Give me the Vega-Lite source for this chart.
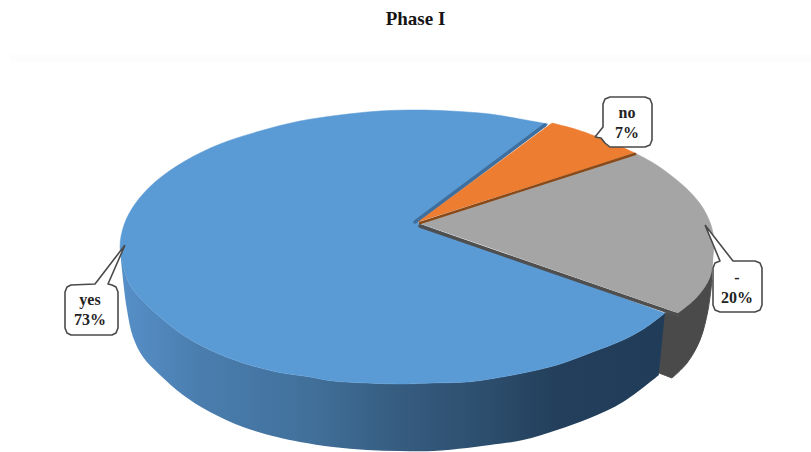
{
  "$schema": "https://vega.github.io/schema/vega-lite/v6.json",
  "width": 811,
  "height": 452,
  "autosize": "none",
  "padding": 0,
  "background": "white",
  "view": {"stroke": null},
  "title": {"text": "Phase I", "font": "Liberation Serif", "fontSize": 19, "fontWeight": "bold", "color": "#151515", "anchor": "middle", "frame": "group", "offset": -29, "dx": 10},
  "datasets": {
    "band": [{"x": 10, "x2": 811, "y": 54, "y2": 62}],
    "sideDark": [
      {"i": 1, "x": 712, "y": 255}, {"i": 2, "x": 710, "y": 277}, {"i": 3, "x": 697, "y": 297}, {"i": 4, "x": 678, "y": 313},
      {"i": 4.5, "x": 678, "y": 313},
      {"i": 5, "x": 664, "y": 313}, {"i": 5.5, "x": 664, "y": 313}, {"i": 6, "x": 659, "y": 373}, {"i": 6.5, "x": 659, "y": 373},
      {"i": 7, "x": 672, "y": 378}, {"i": 7.5, "x": 672, "y": 378}, {"i": 8, "x": 687, "y": 363},
      {"i": 9, "x": 700, "y": 340}, {"i": 10, "x": 708, "y": 310}, {"i": 11, "x": 712, "y": 280}
    ],
    "sideBlue": [
      {"i": 1, "x": 120, "y": 247}, {"i": 2, "x": 124, "y": 269}, {"i": 3, "x": 130, "y": 285}, {"i": 4, "x": 142, "y": 300},
      {"i": 5, "x": 160, "y": 317}, {"i": 6, "x": 183, "y": 335}, {"i": 7, "x": 210, "y": 350}, {"i": 8, "x": 243, "y": 363},
      {"i": 9, "x": 277, "y": 372}, {"i": 10, "x": 310, "y": 377}, {"i": 11, "x": 333, "y": 381}, {"i": 12, "x": 367, "y": 383},
      {"i": 13, "x": 400, "y": 384}, {"i": 14, "x": 433, "y": 383}, {"i": 15, "x": 467, "y": 382}, {"i": 16, "x": 490, "y": 379},
      {"i": 17, "x": 523, "y": 373}, {"i": 18, "x": 557, "y": 365}, {"i": 19, "x": 590, "y": 353}, {"i": 20, "x": 623, "y": 340},
      {"i": 21, "x": 645, "y": 328}, {"i": 22, "x": 665, "y": 313}, {"i": 22.5, "x": 665, "y": 313},
      {"i": 23, "x": 659, "y": 375}, {"i": 23.5, "x": 659, "y": 375}, {"i": 24, "x": 623, "y": 402}, {"i": 25, "x": 590, "y": 418},
      {"i": 26, "x": 557, "y": 430}, {"i": 27, "x": 523, "y": 440}, {"i": 28, "x": 490, "y": 445}, {"i": 29, "x": 467, "y": 448},
      {"i": 30, "x": 433, "y": 451}, {"i": 31, "x": 400, "y": 451}, {"i": 32, "x": 367, "y": 450}, {"i": 33, "x": 333, "y": 447},
      {"i": 34, "x": 300, "y": 442}, {"i": 35, "x": 277, "y": 437}, {"i": 36, "x": 243, "y": 427}, {"i": 37, "x": 210, "y": 412},
      {"i": 38, "x": 183, "y": 395}, {"i": 39, "x": 160, "y": 375}, {"i": 40, "x": 143, "y": 357}, {"i": 41, "x": 133, "y": 337},
      {"i": 42, "x": 127, "y": 310}, {"i": 43, "x": 122, "y": 270}, {"i": 44, "x": 120, "y": 247}
    ],
    "topBlue": [
      {"i": 1, "x": 418, "y": 223}, {"i": 1.5, "x": 418, "y": 223}, {"i": 2, "x": 548, "y": 124}, {"i": 2.5, "x": 548, "y": 124}, {"i": 3, "x": 520, "y": 119}, {"i": 4, "x": 490, "y": 114},
      {"i": 5, "x": 450, "y": 111}, {"i": 6, "x": 417, "y": 110}, {"i": 7, "x": 380, "y": 111}, {"i": 8, "x": 340, "y": 115},
      {"i": 9, "x": 300, "y": 121}, {"i": 10, "x": 260, "y": 131}, {"i": 11, "x": 220, "y": 144}, {"i": 12, "x": 185, "y": 161},
      {"i": 13, "x": 155, "y": 182}, {"i": 14, "x": 135, "y": 204}, {"i": 15, "x": 124, "y": 225}, {"i": 16, "x": 120, "y": 247},
      {"i": 17, "x": 124, "y": 269}, {"i": 18, "x": 130, "y": 285}, {"i": 19, "x": 142, "y": 300}, {"i": 20, "x": 160, "y": 317},
      {"i": 21, "x": 183, "y": 335}, {"i": 22, "x": 210, "y": 350}, {"i": 23, "x": 243, "y": 363}, {"i": 24, "x": 277, "y": 372},
      {"i": 25, "x": 310, "y": 377}, {"i": 26, "x": 333, "y": 381}, {"i": 27, "x": 367, "y": 383}, {"i": 28, "x": 400, "y": 384},
      {"i": 29, "x": 433, "y": 383}, {"i": 30, "x": 467, "y": 382}, {"i": 31, "x": 490, "y": 379}, {"i": 32, "x": 523, "y": 373},
      {"i": 33, "x": 557, "y": 365}, {"i": 34, "x": 590, "y": 353}, {"i": 35, "x": 623, "y": 340}, {"i": 36, "x": 645, "y": 328},
      {"i": 37, "x": 665, "y": 313}
    ],
    "shadowEdges": [
      {"edge": "blue", "i": 1, "x": 415, "y": 222}, {"edge": "blue", "i": 2, "x": 545, "y": 125},
      {"edge": "gray", "i": 1, "x": 420, "y": 226}, {"edge": "gray", "i": 2, "x": 678, "y": 315}
    ],
    "orangeEdge": [
      {"i": 1, "x": 420, "y": 223}, {"i": 2, "x": 635, "y": 154}
    ],
    "topOrange": [
      {"i": 1, "x": 418, "y": 222}, {"i": 1.5, "x": 418, "y": 222}, {"i": 2, "x": 552, "y": 123}, {"i": 2.5, "x": 552, "y": 123}, {"i": 3, "x": 575, "y": 129}, {"i": 4, "x": 595, "y": 136},
      {"i": 5, "x": 615, "y": 144}, {"i": 6, "x": 635, "y": 153}
    ],
    "topGray": [
      {"i": 1, "x": 421, "y": 224}, {"i": 1.5, "x": 421, "y": 224}, {"i": 2, "x": 635, "y": 153}, {"i": 2.5, "x": 635, "y": 153}, {"i": 3, "x": 655, "y": 164}, {"i": 4, "x": 673, "y": 177},
      {"i": 5, "x": 690, "y": 192}, {"i": 6, "x": 703, "y": 208}, {"i": 7, "x": 711, "y": 225}, {"i": 8, "x": 714, "y": 241},
      {"i": 9, "x": 713, "y": 257}, {"i": 10, "x": 710, "y": 277}, {"i": 11, "x": 697, "y": 297}, {"i": 12, "x": 678, "y": 313}
    ],
    "callouts": [
      {"c": "no", "i": 1, "x": 595, "y": 137}, {"c": "no", "i": 2, "x": 603, "y": 127}, {"c": "no", "i": 3, "x": 603, "y": 104},
      {"c": "no", "i": 4, "x": 605, "y": 99}, {"c": "no", "i": 5, "x": 610, "y": 97}, {"c": "no", "i": 6, "x": 645, "y": 97},
      {"c": "no", "i": 7, "x": 650, "y": 99}, {"c": "no", "i": 8, "x": 652, "y": 104}, {"c": "no", "i": 9, "x": 652, "y": 140},
      {"c": "no", "i": 10, "x": 650, "y": 145}, {"c": "no", "i": 11, "x": 645, "y": 147}, {"c": "no", "i": 12, "x": 610, "y": 147},
      {"c": "no", "i": 13, "x": 605, "y": 143}, {"c": "no", "i": 14, "x": 601, "y": 138}, {"c": "no", "i": 15, "x": 595, "y": 137},
      {"c": "dash", "i": 1, "x": 705, "y": 225}, {"c": "dash", "i": 2, "x": 733, "y": 261}, {"c": "dash", "i": 3, "x": 755, "y": 261},
      {"c": "dash", "i": 4, "x": 760, "y": 263}, {"c": "dash", "i": 5, "x": 762, "y": 268}, {"c": "dash", "i": 6, "x": 762, "y": 305},
      {"c": "dash", "i": 7, "x": 760, "y": 310}, {"c": "dash", "i": 8, "x": 755, "y": 312}, {"c": "dash", "i": 9, "x": 720, "y": 312},
      {"c": "dash", "i": 10, "x": 715, "y": 310}, {"c": "dash", "i": 11, "x": 713, "y": 305}, {"c": "dash", "i": 12, "x": 713, "y": 268},
      {"c": "dash", "i": 13, "x": 715, "y": 263}, {"c": "dash", "i": 14, "x": 720, "y": 261}, {"c": "dash", "i": 15, "x": 705, "y": 225},
      {"c": "yes", "i": 1, "x": 125, "y": 245}, {"c": "yes", "i": 2, "x": 108, "y": 284}, {"c": "yes", "i": 3, "x": 112, "y": 285},
      {"c": "yes", "i": 4, "x": 116, "y": 287}, {"c": "yes", "i": 5, "x": 118, "y": 292}, {"c": "yes", "i": 6, "x": 118, "y": 328},
      {"c": "yes", "i": 7, "x": 116, "y": 333}, {"c": "yes", "i": 8, "x": 112, "y": 335}, {"c": "yes", "i": 9, "x": 71, "y": 335},
      {"c": "yes", "i": 10, "x": 67, "y": 333}, {"c": "yes", "i": 11, "x": 65, "y": 328}, {"c": "yes", "i": 12, "x": 65, "y": 292},
      {"c": "yes", "i": 13, "x": 67, "y": 287}, {"c": "yes", "i": 14, "x": 71, "y": 285}, {"c": "yes", "i": 15, "x": 95, "y": 284},
      {"c": "yes", "i": 16, "x": 125, "y": 245}
    ],
    "slices": [
      {"category": "no", "share": 7, "label": "no\n7%", "x": 627, "y": 113},
      {"category": "-", "share": 20, "label": "-\n20%", "x": 737, "y": 278},
      {"category": "yes", "share": 73, "label": "yes\n73%", "x": 90, "y": 300}
    ]
  },
  "encoding": {
    "x": {"field": "x", "type": "quantitative", "axis": null, "scale": {"domain": [0, 811], "nice": false, "zero": false}},
    "y": {"field": "y", "type": "quantitative", "axis": null, "scale": {"domain": [452, 0], "nice": false, "zero": false}}
  },
  "layer": [
    {
      "data": {"name": "band"},
      "mark": {"type": "rect", "fill": "#fdfdfd"},
      "encoding": {"x2": {"field": "x2"}, "y2": {"field": "y2"}}
    },
    {
      "data": {"name": "sideDark"},
      "mark": {"type": "line", "interpolate": "catmull-rom", "fill": "#4a4a4a", "stroke": "#4a4a4a", "strokeWidth": 1},
      "encoding": {"order": {"field": "i"}}
    },
    {
      "data": {"name": "sideBlue"},
      "mark": {
        "type": "line",
        "interpolate": "catmull-rom",
        "strokeWidth": 0,
        "stroke": "transparent",
        "fill": {
          "gradient": "linear", "x1": 0, "x2": 1, "y1": 0, "y2": 0,
          "stops": [
            {"offset": 0, "color": "#5690c8"},
            {"offset": 0.15, "color": "#4a7dae"},
            {"offset": 0.35, "color": "#41709a"},
            {"offset": 0.51, "color": "#365c80"},
            {"offset": 0.68, "color": "#2c4d6c"},
            {"offset": 0.8, "color": "#233f5b"},
            {"offset": 1, "color": "#203c59"}
          ]
        }
      },
      "encoding": {"order": {"field": "i"}}
    },
    {
      "data": {"name": "topBlue"},
      "mark": {"type": "line", "interpolate": "catmull-rom", "fill": "#5b9bd5", "stroke": "#5b9bd5", "strokeWidth": 0.5},
      "encoding": {"order": {"field": "i"}}
    },
    {
      "data": {"name": "shadowEdges"},
      "mark": {"type": "line", "strokeCap": "round"},
      "encoding": {
        "order": {"field": "i"},
        "color": {"field": "edge", "type": "nominal", "legend": null, "scale": {"domain": ["blue", "gray"], "range": ["#3f6f9e", "#4f4f4f"]}},
        "strokeWidth": {"value": 3.5}
      }
    },
    {
      "data": {"name": "topOrange"},
      "mark": {"type": "line", "interpolate": "catmull-rom", "fill": "#ed7d31", "stroke": "#ed7d31", "strokeWidth": 0.5},
      "encoding": {"order": {"field": "i"}}
    },
    {
      "data": {"name": "topGray"},
      "mark": {"type": "line", "interpolate": "catmull-rom", "fill": "#a5a5a5", "stroke": "#a5a5a5", "strokeWidth": 0.5},
      "encoding": {"order": {"field": "i"}}
    },
    {
      "data": {"name": "orangeEdge"},
      "mark": {"type": "line", "stroke": "#8a4a18", "strokeWidth": 2.5, "strokeCap": "round"},
      "encoding": {"order": {"field": "i"}}
    },
    {
      "data": {"name": "callouts"},
      "mark": {"type": "line", "fill": "white", "stroke": "#4a4a4a", "strokeWidth": 1.6, "strokeJoin": "round"},
      "encoding": {"order": {"field": "i"}, "detail": {"field": "c"}}
    },
    {
      "data": {"name": "slices"},
      "mark": {"type": "text", "font": "Liberation Serif", "fontWeight": "bold", "fontSize": 16, "lineHeight": 20, "lineBreak": "\n", "align": "center", "baseline": "middle", "color": "#222222"},
      "encoding": {"text": {"field": "label"}}
    }
  ]
}
